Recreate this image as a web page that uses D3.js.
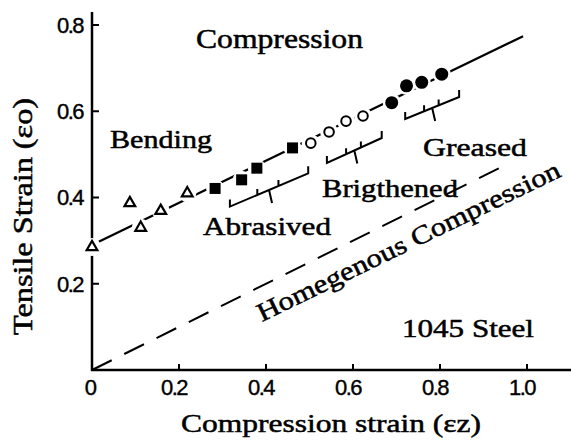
<!DOCTYPE html>
<html><head><meta charset="utf-8">
<script src="https://cdn.jsdelivr.net/npm/d3@7"></script>
<style>body{margin:0;background:#fff}svg{display:block}</style>
</head><body>
<svg id="c" width="571" height="441"></svg>
<script>
// ---- data ----
const xTicks = [0, 0.2, 0.4, 0.6, 0.8, 1.0];
const xTickLabels = ["0", "0.2", "0.4", "0.6", "0.8", "1.0"];
const yTicks = [0.2, 0.4, 0.6, 0.8];
const yTickLabels = ["0.2", "0.4", "0.6", "0.8"];
const bendingTri = [[0.0,0.285],[0.087,0.387],[0.112,0.330],[0.158,0.369],[0.219,0.410]];
const abrasivedSq = [[0.283,0.421],[0.344,0.441],[0.379,0.468],[0.461,0.515]];
const brightenedOpen = [[0.503,0.526],[0.545,0.552],[0.584,0.577],[0.623,0.589]];
const greasedFilled = [[0.689,0.620],[0.723,0.659],[0.758,0.667],[0.804,0.686]];
const fitLine = [[0.0,0.290],[0.991,0.774]];
const homogLine = [[0.0,0.0],[0.935,0.4675]];
const brackets = [
  {name:"Abrasived", p0:[0.317,0.379], p1:[0.497,0.456]},
  {name:"Brigthened", p0:[0.540,0.480], p1:[0.666,0.538]},
  {name:"Greased", p0:[0.720,0.582], p1:[0.844,0.633]}
];

const svg = d3.select("#c");
const x = d3.scaleLinear().domain([0,1]).range([92,527]);
const y = d3.scaleLinear().domain([0,0.8]).range([370,25]);
const serif = "'Liberation Serif','Times New Roman',serif";
const sans = "'Liberation Sans',Arial,sans-serif";

// axes lines
svg.append("line").attr("x1",x(0)).attr("x2",x(0)).attr("y1",y(0)+1).attr("y2",12)
  .attr("stroke","#000").attr("stroke-width",2.5);
svg.append("line").attr("x1",x(0)-1).attr("x2",571).attr("y1",y(0)).attr("y2",y(0))
  .attr("stroke","#000").attr("stroke-width",2.5);

// ticks
svg.selectAll(".yt").data(yTicks).enter().append("line")
  .attr("x1",x(0)).attr("x2",x(0)+7).attr("y1",d=>y(d)).attr("y2",d=>y(d))
  .attr("stroke","#000").attr("stroke-width",2);
svg.selectAll(".xt").data(xTicks.slice(1)).enter().append("line")
  .attr("x1",d=>x(d)).attr("x2",d=>x(d)).attr("y1",y(0)).attr("y2",y(0)-6)
  .attr("stroke","#000").attr("stroke-width",2);

// tick labels
svg.selectAll(".yl").data(yTicks).enter().append("text")
  .attr("x",x(0)-9).attr("y",d=>y(d)).attr("dy","0.36em").attr("text-anchor","end")
  .attr("font-family",sans).attr("font-size",22).attr("letter-spacing",-1.5)
  .attr("stroke","#000").attr("stroke-width",0.4)
  .text((d,i)=>yTickLabels[i]);
svg.selectAll(".xl").data(xTicks).enter().append("text")
  .attr("x",(d,i)=>x(d)-(i===0?2:5)).attr("y",y(0)+25).attr("text-anchor","middle")
  .attr("font-family",sans).attr("font-size",22).attr("letter-spacing",-1.5)
  .attr("stroke","#000").attr("stroke-width",0.4)
  .text((d,i)=>xTickLabels[i]);

// homogeneous dashed line
svg.append("line").attr("x1",x(homogLine[0][0])).attr("y1",y(homogLine[0][1]))
  .attr("x2",x(homogLine[1][0])).attr("y2",y(homogLine[1][1]))
  .attr("stroke","#000").attr("stroke-width",2).attr("stroke-dasharray","22,14");

// fit line
svg.append("line").attr("x1",x(fitLine[0][0])).attr("y1",y(fitLine[0][1]))
  .attr("x2",x(fitLine[1][0])).attr("y2",y(fitLine[1][1]))
  .attr("stroke","#000").attr("stroke-width",2.2);

// halos to break the line around markers
const allPts = bendingTri.concat(abrasivedSq, brightenedOpen, greasedFilled);
svg.selectAll(".halo").data(allPts).enter().append("circle")
  .attr("cx",d=>x(d[0])).attr("cy",d=>y(d[1])).attr("r",9).attr("fill","#fff");

// markers
const tri = d3.symbol().type(d3.symbolTriangle).size(50);
svg.selectAll(".tri").data(bendingTri).enter().append("path")
  .attr("d",tri).attr("transform",d=>`translate(${x(d[0])},${y(d[1])})`)
  .attr("fill","#fff").attr("stroke","#000").attr("stroke-width",2.2);
svg.selectAll(".sq").data(abrasivedSq).enter().append("rect")
  .attr("x",d=>x(d[0])-5.5).attr("y",d=>y(d[1])-5.5).attr("width",11).attr("height",11)
  .attr("fill","#000");
svg.selectAll(".oc").data(brightenedOpen).enter().append("circle")
  .attr("cx",d=>x(d[0])).attr("cy",d=>y(d[1])).attr("r",4.8)
  .attr("fill","#fff").attr("stroke","#000").attr("stroke-width",2);
svg.selectAll(".fc").data(greasedFilled).enter().append("circle")
  .attr("cx",d=>x(d[0])).attr("cy",d=>y(d[1])).attr("r",6.5).attr("fill","#000");

// brackets
brackets.forEach(b=>{
  const ax=x(b.p0[0]), ay=y(b.p0[1]), bx=x(b.p1[0]), by=y(b.p1[1]);
  const L=(t)=>[ax+(bx-ax)*t, ay+(by-ay)*t];
  let p = `M${ax},${ay-7}L${ax},${ay}L${bx},${by}L${bx},${by-7}`;
  const t1=L(0.35), t2=L(0.62);
  p += `M${t1[0]},${t1[1]}L${t1[0]},${t1[1]-6}`;
  p += `M${t2[0]},${t2[1]-6}L${t2[0]},${t2[1]}`;
  const m=L(0.5);
  p += `M${m[0]},${m[1]}L${m[0]+3},${m[1]+13}`;
  svg.append("path").attr("d",p).attr("fill","none").attr("stroke","#000").attr("stroke-width",2);
});

// labels
function lab(t,xx,yy,w,fs){
  svg.append("text").attr("x",xx).attr("y",yy).attr("font-family",serif).attr("font-size",fs)
    .attr("stroke","#000").attr("stroke-width",0.5)
    .attr("textLength",w).attr("lengthAdjust","spacingAndGlyphs").text(t);
}
lab("Compression",196,48,167,27);
lab("Bending",110,148,102,26);
lab("Brigthened",322,197,136,26);
lab("Abrasived",203,235,128,26);
lab("Greased",423,156,104,26);
lab("1045 Steel",402,337,132,26);
svg.append("text").attr("transform","translate(262,322) rotate(-25.9)")
  .attr("font-family",serif).attr("font-size",26).attr("stroke","#000").attr("stroke-width",0.5)
  .attr("textLength",334).attr("lengthAdjust","spacingAndGlyphs").text("Homegenous Compression");

// axis titles
svg.append("text").attr("x",181).attr("y",432).attr("font-family",serif).attr("font-size",26)
  .attr("stroke","#000").attr("stroke-width",0.5)
  .attr("textLength",300).attr("lengthAdjust","spacingAndGlyphs").text("Compression strain (εz)");
svg.append("text").attr("transform","translate(32,335) rotate(-90)")
  .attr("font-family",serif).attr("font-size",27).attr("stroke","#000").attr("stroke-width",0.5)
  .attr("textLength",237).attr("lengthAdjust","spacingAndGlyphs").text("Tensile Strain (εo)");
</script>
</body></html>
